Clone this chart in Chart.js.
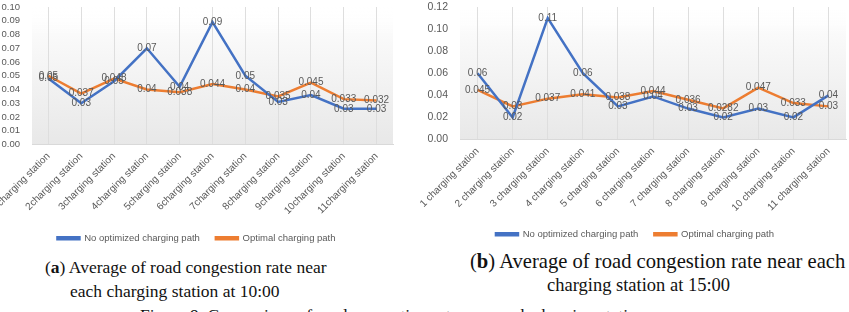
<!DOCTYPE html>
<html>
<head>
<meta charset="utf-8">
<script src="https://cdn.jsdelivr.net/npm/chart.js@4.4.1/dist/chart.umd.min.js"></script>
<style>
  html, body { margin: 0; padding: 0; background: #fff; }
  body { width: 849px; height: 312px; position: relative; overflow: hidden; }
  .box { position: absolute; top: 0; }
  .cap { position: absolute; font-family: "Liberation Serif", serif; font-size: 17.5px; color: #111; white-space: nowrap; }
</style>
</head>
<body>
<div class="box" style="left:0;width:396px;height:253px"><canvas id="chartA"></canvas></div>
<div class="box" style="left:400px;width:449px;height:249px"><canvas id="chartB"></canvas></div>

<div class="cap" style="left:45px;top:257px">(<b>a</b>) Average of road congestion rate near</div>
<div class="cap" style="left:70px;top:281px">each charging station at 10:00</div>
<div class="cap" style="left:470px;top:250px;font-size:20.6px">(<b>b</b>) Average of road congestion rate near each</div>
<div class="cap" style="left:547px;top:275px;font-size:18.5px">charging station at 15:00</div>
<div class="cap" style="left:140px;top:305px">Figure 9. Comparison of road congestion rate near each charging station.</div>

<script>
// Data
const stationsA = ['1charging station', '2charging station', '3charging station', '4charging station',
    '5charging station', '6charging station', '7charging station', '8charging station',
    '9charging station', '10charging station', '11charging station'];
const stationsB = ['1 charging station', '2 charging station', '3 charging station', '4 charging station',
    '5 charging station', '6 charging station', '7 charging station', '8 charging station',
    '9 charging station', '10 charging station', '11 charging station'];

const noOptimizedA = [0.048, 0.03, 0.046, 0.07, 0.042, 0.089, 0.05, 0.031, 0.036, 0.026, 0.026];
const optimalA = [0.05, 0.037, 0.048, 0.04, 0.038, 0.044, 0.04, 0.035, 0.045, 0.033, 0.032];

const noOptimizedB = [0.06, 0.02, 0.11, 0.06, 0.03, 0.039, 0.028, 0.02, 0.028, 0.02, 0.04];
const optimalB = [0.045, 0.03, 0.037, 0.041, 0.038, 0.044, 0.036, 0.0282, 0.047, 0.033, 0.03];

const seriesNames = ['No optimized charging path', 'Optimal charging path'];

const BLUE = '#4472C4';
const ORANGE = '#ED7D31';
const GREY = '#595959';

// light gradient behind the plot area, like the Excel chart
const plotBackground = {
    id: 'plotBackground',
    beforeDraw(chart) {
        const a = chart.chartArea;
        const ctx = chart.ctx;
        const g = ctx.createLinearGradient(0, a.top, 0, a.bottom);
        g.addColorStop(0, 'rgba(255,255,255,0)');
        g.addColorStop(0.2, 'rgba(250,250,250,1)');
        g.addColorStop(1, 'rgba(232,232,232,1)');
        ctx.save();
        ctx.fillStyle = g;
        ctx.fillRect(a.left, a.top, a.right - a.left, a.bottom - a.top);
        ctx.restore();
    }
};

// value labels centred on each point
const pointLabels = {
    id: 'pointLabels',
    afterDatasetsDraw(chart) {
        const ctx = chart.ctx;
        ctx.save();
        ctx.font = '10px "Liberation Sans", Arial, sans-serif';
        ctx.fillStyle = GREY;
        ctx.textAlign = 'center';
        ctx.textBaseline = 'middle';
        chart.data.datasets.forEach(function(ds, i) {
            const meta = chart.getDatasetMeta(i);
            meta.data.forEach(function(pt, j) {
                const v = ds.data[j];
                const txt = i === 0 ? v.toFixed(2) : String(v);
                ctx.fillText(txt, pt.x, pt.y);
            });
        });
        ctx.restore();
    }
};

function makeChart(id, labels, blue, orange, yMax, yStep, padLeft, yWidth, yFont, xHeight) {
    const ctx = document.getElementById(id).getContext('2d');
    return new Chart(ctx, {
        type: 'line',
        data: {
            labels: labels,
            datasets: [{
                label: seriesNames[0],
                data: blue,
                borderColor: BLUE,
                backgroundColor: BLUE,
                borderWidth: 2.5,
                pointRadius: 0,
                tension: 0
            }, {
                label: seriesNames[1],
                data: orange,
                borderColor: ORANGE,
                backgroundColor: ORANGE,
                borderWidth: 2.5,
                pointRadius: 0,
                tension: 0
            }]
        },
        options: {
            responsive: true,
            maintainAspectRatio: false,
            animation: false,
            layout: { padding: { top: 7, right: 3, left: padLeft, bottom: 0 } },
            plugins: {
                tooltip: { enabled: false },
                legend: {
                    position: 'bottom',
                    labels: {
                        boxWidth: 22,
                        boxHeight: 2,
                        padding: 16,
                        color: GREY,
                        font: { family: '"Liberation Sans", Arial, sans-serif', size: 9.5 }
                    }
                }
            },
            scales: {
                x: {
                    offset: true,
                    grid: { offset: false, color: '#dedede', drawTicks: false },
                    border: { color: '#d9d9d9' },
                    ticks: {
                        autoSkip: false,
                        minRotation: 45,
                        maxRotation: 45,
                        padding: 6,
                        color: GREY,
                        font: { family: '"Liberation Sans", Arial, sans-serif', size: 10 }
                    },
                    afterFit: function(s) { s.paddingLeft = 0; s.paddingRight = 0; s.height = xHeight; }
                },
                y: {
                    min: 0,
                    max: yMax,
                    grid: { display: false, drawTicks: false, tickLength: 0 },
                    border: { display: false },
                    ticks: {
                        stepSize: yStep,
                        autoSkip: false,
                        padding: 12,
                        color: GREY,
                        font: { family: '"Liberation Sans", Arial, sans-serif', size: yFont },
                        callback: function(v) { return v.toFixed(2); }
                    },
                    afterFit: function(s) { s.width = yWidth; s.paddingTop = 0; }
                }
            }
        },
        plugins: [plotBackground, pointLabels]
    });
}

makeChart('chartA', stationsA, noOptimizedA, optimalA, 0.10, 0.01, 0, 32, 9.5, 73);
makeChart('chartB', stationsB, noOptimizedB, optimalB, 0.12, 0.02, 24, 36, 10.5, 74);
</script>
</body>
</html>
